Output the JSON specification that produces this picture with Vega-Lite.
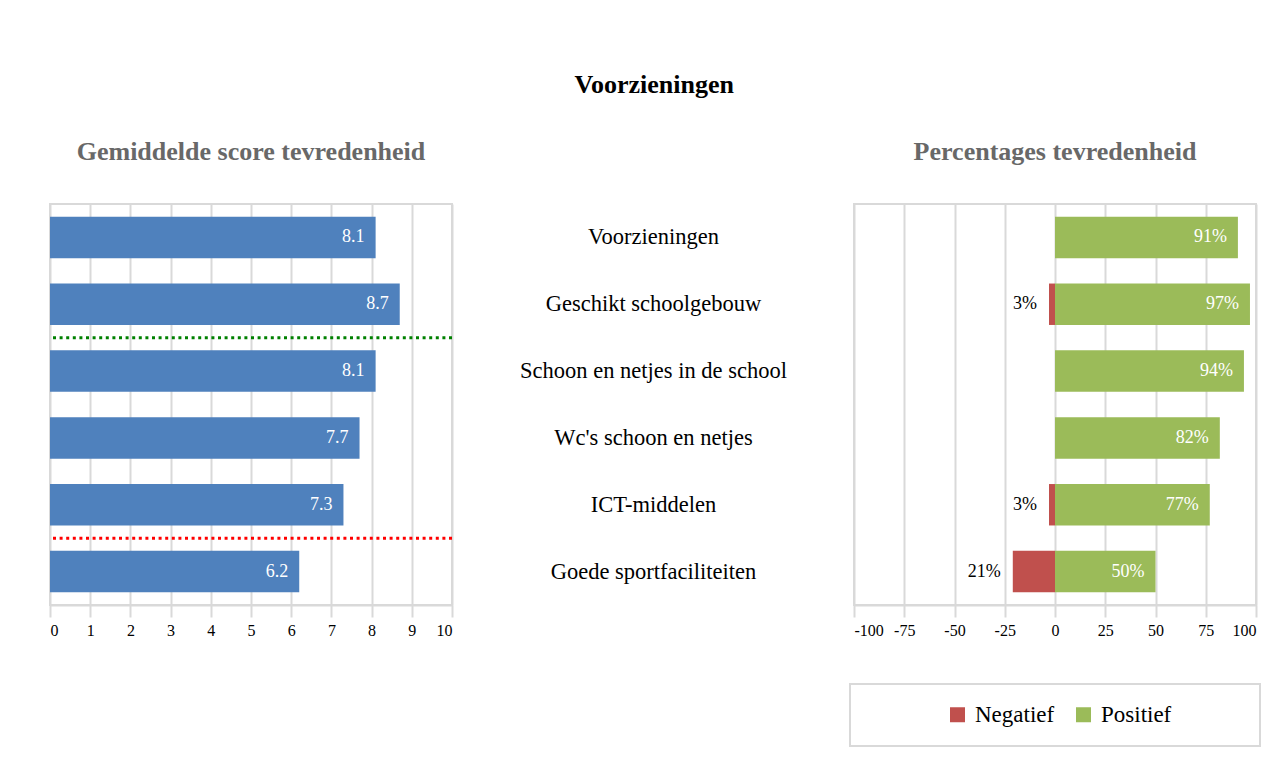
{
  "$schema": "https://vega.github.io/schema/vega-lite/v6.json",
  "padding": {"left": 47, "top": 72, "right": 5, "bottom": 5},
  "background": "white",
  "title": {"text": "Voorzieningen", "font": "Liberation Serif", "fontSize": 26, "fontWeight": "bold", "color": "#000000", "anchor": "middle", "offset": 40},
  "datasets": {
    "rows": [
      {"item": "Voorzieningen", "score": 8.1, "neg": 0, "pos": 0.91},
      {"item": "Geschikt schoolgebouw", "score": 8.7, "neg": 0.03, "pos": 0.97},
      {"item": "Schoon en netjes in de school", "score": 8.1, "neg": 0, "pos": 0.94},
      {"item": "Wc's schoon en netjes", "score": 7.7, "neg": 0, "pos": 0.82},
      {"item": "ICT-middelen", "score": 7.3, "neg": 0.03, "pos": 0.77},
      {"item": "Goede sportfaciliteiten", "score": 6.2, "neg": 0.21, "pos": 0.5}
    ]
  },
  "data": {"name": "rows"},
  "spacing": 0,
  "hconcat": [
    {
      "width": 402,
      "height": 401,
      "title": {"text": "Gemiddelde score tevredenheid"},
      "layer": [
        {
          "mark": {"type": "bar", "color": "#4f81bd", "height": {"band": 0.62}},
          "encoding": {
            "y": {"field": "item", "type": "nominal", "sort": null, "axis": null, "scale": {"paddingInner": 0, "paddingOuter": 0}},
            "x": {"field": "score", "type": "quantitative", "scale": {"domain": [0, 10], "nice": false}, "axis": {"values": [0,1,2,3,4,5,6,7,8,9,10], "grid": true}}
          }
        },
        {
          "mark": {"type": "text", "color": "white", "align": "right", "baseline": "middle", "dx": -11, "font": "Liberation Serif", "fontSize": 18},
          "encoding": {
            "y": {"field": "item", "type": "nominal", "sort": null},
            "x": {"field": "score", "type": "quantitative"},
            "text": {"field": "score", "type": "quantitative", "format": ".1f"}
          }
        },
        {
          "transform": [{"filter": "datum.item == 'Schoon en netjes in de school'"}],
          "mark": {"type": "rule", "color": "#008000", "strokeWidth": 3, "strokeDash": [3, 3.6]},
          "encoding": {
            "y": {"field": "item", "type": "nominal", "sort": null, "bandPosition": 0}
          }
        },
        {
          "transform": [{"filter": "datum.item == 'Goede sportfaciliteiten'"}],
          "mark": {"type": "rule", "color": "#ff0000", "strokeWidth": 3, "strokeDash": [3, 3.6]},
          "encoding": {
            "y": {"field": "item", "type": "nominal", "sort": null, "bandPosition": 0}
          }
        }
      ]
    },
    {
      "width": 397,
      "height": 401,
      "view": {"stroke": null},
      "mark": {"type": "text", "font": "Liberation Serif", "fontSize": 22.5, "color": "#000000", "baseline": "middle", "align": "center"},
      "encoding": {
        "y": {"field": "item", "type": "nominal", "sort": null, "axis": null, "scale": {"paddingInner": 0, "paddingOuter": 0}},
        "text": {"field": "item", "type": "nominal"}
      }
    },
    {
      "width": 402,
      "height": 401,
      "title": {"text": "Percentages tevredenheid"},
      "resolve": {"scale": {"x": "independent"}},
      "layer": [
        {
          "mark": {"type": "bar", "height": {"band": 0.62}},
          "encoding": {
            "y": {"field": "item", "type": "nominal", "sort": null, "axis": null, "scale": {"paddingInner": 0, "paddingOuter": 0}},
            "x": {"field": "pos", "type": "quantitative", "scale": {"domain": [-1, 1], "nice": false}, "axis": {"values": [-1, -0.75, -0.5, -0.25, 0, 0.25, 0.5, 0.75, 1], "grid": true, "labelExpr": "'' + round(datum.value * 100)"}},
            "color": {"datum": "Positief", "type": "nominal", "scale": {"domain": ["Negatief", "Positief"], "range": ["#c0504d", "#9bbb59"]}, "legend": {"orient": "none", "legendX": 800, "legendY": 480, "direction": "horizontal", "title": "\u00a0", "titleOrient": "left", "titlePadding": 77, "labelLimit": 1000, "labelExpr": "datum.label == 'Positief' ? datum.label + '\u00a0\u00a0\u00a0\u00a0\u00a0\u00a0\u00a0\u00a0\u00a0\u2800' : datum.label"}}
          }
        },
        {
          "mark": {"type": "text", "color": "white", "align": "right", "baseline": "middle", "dx": -11, "font": "Liberation Serif", "fontSize": 18},
          "encoding": {
            "y": {"field": "item", "type": "nominal", "sort": null},
            "x": {"field": "pos", "type": "quantitative", "scale": {"domain": [-1, 1], "nice": false}, "axis": null},
            "text": {"field": "pos", "type": "quantitative", "format": ".0%"}
          }
        },
        {
          "transform": [{"filter": "datum.neg > 0"}],
          "mark": {"type": "bar", "height": {"band": 0.62}},
          "encoding": {
            "y": {"field": "item", "type": "nominal", "sort": null},
            "x": {"field": "neg", "type": "quantitative", "scale": {"domain": [-1, 1], "nice": false, "reverse": true}, "axis": null},
            "color": {"datum": "Negatief", "type": "nominal"}
          }
        },
        {
          "transform": [{"filter": "datum.neg > 0"}],
          "mark": {"type": "text", "color": "#000000", "align": "right", "baseline": "middle", "dx": -12, "font": "Liberation Serif", "fontSize": 18},
          "encoding": {
            "y": {"field": "item", "type": "nominal", "sort": null},
            "x": {"field": "neg", "type": "quantitative", "scale": {"domain": [-1, 1], "nice": false, "reverse": true}, "axis": null},
            "text": {"field": "neg", "type": "quantitative", "format": ".0%"}
          }
        }
      ]
    }
  ],
  "config": {
    "font": "Liberation Serif",
    "view": {"stroke": "#d9d9d9", "strokeWidth": 2},
    "title": {"font": "Liberation Serif", "fontSize": 26, "fontWeight": "bold", "color": "#686868", "offset": 39, "anchor": "middle"},
    "axis": {
      "domainColor": "#d9d9d9", "domainWidth": 2,
      "tickColor": "#d9d9d9", "tickWidth": 2, "tickSize": 12,
      "gridColor": "#d9d9d9", "gridWidth": 2,
      "labelFont": "Liberation Serif", "labelFontSize": 16, "labelColor": "#000000", "labelPadding": 5,
      "title": null
    },
    "legend": {
      "labelFont": "Liberation Serif", "labelFontSize": 23, "labelColor": "#000000",
      "titleFont": "Liberation Serif", "titleFontSize": 23,
      "symbolType": "square", "symbolSize": 225, "symbolStrokeWidth": 0, "symbolOpacity": 1,
      "labelOffset": 6, "columnPadding": 17,
      "strokeColor": "#d9d9d9", "strokeWidth": 2, "padding": 19
    }
  }
}
